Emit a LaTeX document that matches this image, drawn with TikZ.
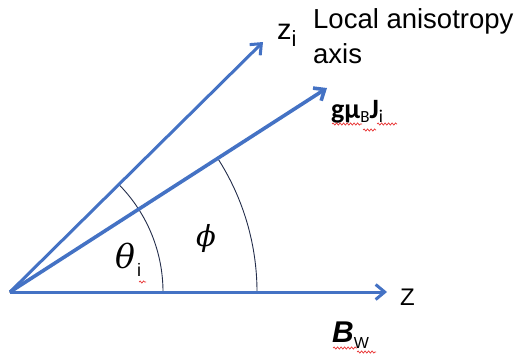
\RequirePackage{fix-cm}
\documentclass[tikz,border=0pt]{standalone}
\usepackage{fontspec}
\setmainfont{Liberation Sans}
\newfontfamily\calfont{Carlito}
\newfontfamily\grkfont{DejaVu Serif}
\usetikzlibrary{arrows.meta,decorations.pathmorphing}
\definecolor{vecblue}{RGB}{68,114,196}
\definecolor{arcnavy}{RGB}{35,45,75}
\definecolor{squig}{RGB}{232,50,50}
\begin{document}
\begin{tikzpicture}[x=1pt,y=1pt,
  vec/.style={draw=vecblue,line width=3pt,-{Straight Barb[length=9pt,width=15pt]}},
  sector/.style={draw=arcnavy,line width=0.9pt},
  lab/.style={inner sep=0pt,anchor=base west,text=black},
  squiggle/.style={draw=squig,line width=0.7pt,decorate,decoration={snake,amplitude=1.1pt,segment length=3.5pt}}]
\useasboundingbox (0,0) rectangle (518,360);
\coordinate (O) at (10,68);
\coordinate (zt) at (263,318);
\coordinate (jt) at (327,272);
\coordinate (Zt) at (387,68);
% angle sectors
\draw[sector] (O) -- ++(44.7:153) arc[start angle=44.7,end angle=0,radius=153] -- cycle;
\draw[sector] (O) -- ++(32.76:247) arc[start angle=32.76,end angle=0,radius=247];
% vectors
\draw[vec] (O) -- (zt);
\draw[vec,line width=3.6pt] (O) -- (jt);
\draw[vec] (O) -- (Zt);
% labels
\node[lab,font=\fontsize{27.5}{32}\selectfont] (loc1) at (313,332) {Local anisotropy};
\node[lab,font=\fontsize{27.5}{32}\selectfont] (loc2) at (313,297) {axis};
\node[lab,font=\fontsize{29}{34}\selectfont] (zi) at (277,321) {z\raisebox{-7pt}{\fontsize{22}{26}\selectfont i}};
\node[lab,font=\calfont\fontsize{28}{32}\selectfont] (gmj) at (331,242) {\bfseries gμ\raisebox{-4pt}{\fontsize{17}{20}\selectfont\mdseries B}J\raisebox{-4pt}{\fontsize{18}{20}\selectfont\mdseries i}};
\node[lab,font=\fontsize{24}{28}\selectfont] (Zl) at (400,55) {Z};
\node[lab] (bw) at (332,18) {\fontsize{30}{34}\selectfont\bfseries\itshape B\raisebox{-6pt}{\fontsize{16}{18}\selectfont\mdseries\upshape W}};
\node[lab] (th) at (115,92) {\grkfont\itshape\fontsize{33}{37}\selectfont θ\hspace{2pt}\raisebox{-8pt}{\rmfamily\upshape\fontsize{18}{20}\selectfont i}};
\node[lab] (ph) at (196,114) {\grkfont\itshape\fontsize{29}{33}\selectfont ϕ};
% spell-check squiggles
\draw[squiggle] (332,236) -- (362,236);
\draw[squiggle] (363,230) -- (376,230);
\draw[squiggle] (377,236) -- (397,236);
\draw[squiggle] (333,12) -- (357,12);
\draw[squiggle] (357,8) -- (376,8);
\draw[squiggle] (139,78) -- (146,78);
\end{tikzpicture}
\end{document}
